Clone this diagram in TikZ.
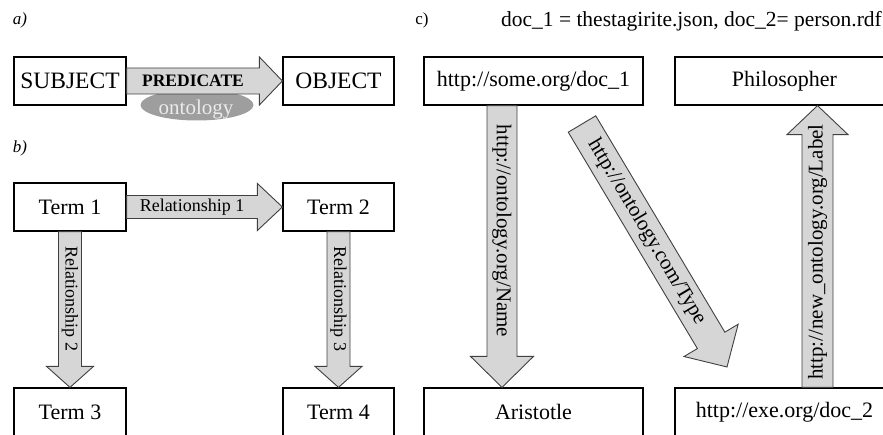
\documentclass[tikz,border=0pt]{standalone}
\usepackage{fontspec}
\setmainfont{Liberation Serif}
\usetikzlibrary{calc,shapes.geometric}
\newcommand{\blockarrow}[7]{%
  \path[barrow] let \p1=(#1), \p2=(#2), \n1={atan2(\y2-\y1,\x2-\x1)}, \n2={veclen(\x2-\x1,\y2-\y1)} in
    ([shift={(\p1)},rotate=\n1]0pt,{#3*0.5pt})
    -- ([shift={(\p1)},rotate=\n1]{\n2*1pt-#5*1pt},{#3*0.5pt})
    -- ([shift={(\p1)},rotate=\n1]{\n2*1pt-#5*1pt},{#4*0.5pt})
    -- ([shift={(\p1)},rotate=\n1]{\n2*1pt},0pt)
    -- ([shift={(\p1)},rotate=\n1]{\n2*1pt-#5*1pt},{-#4*0.5pt})
    -- ([shift={(\p1)},rotate=\n1]{\n2*1pt-#5*1pt},{-#3*0.5pt})
    -- ([shift={(\p1)},rotate=\n1]0pt,{-#3*0.5pt}) -- cycle
    ([shift={(\p1)},rotate=\n1]{0.5*\n2*1pt-0.5*#5*1pt},0pt) node[rotate=\n1,#6]{#7};
}
\tikzset{
  box/.style={draw=black, line width=1.2pt, fill=white, minimum height=48pt,
    inner sep=0pt, font=\fontsize{22}{24}\selectfont},
  bigbox/.style={box, font=\fontsize{23.5}{26}\selectfont},
  barrow/.style={draw=black!75, line width=0.9pt, fill=black!16, line join=miter},
  rel/.style={font=\fontsize{18}{20}\selectfont, inner sep=0pt},
  url/.style={font=\fontsize{21}{23}\selectfont, inner sep=0pt},
  pred/.style={font=\fontsize{17.5}{19}\selectfont\bfseries, inner sep=0pt},
  tag/.style={font=\fontsize{17}{19}\selectfont, inner sep=0pt},
}
\begin{document}
\begin{tikzpicture}[x=1pt, y=-1pt]
\useasboundingbox (0,0) rectangle (883,435);
\clip (0,0) rectangle (883,435);

% panel labels
\node[tag, font=\fontsize{17}{19}\selectfont\itshape] (la) at (20,20) {a)};
\node[tag, font=\fontsize{17}{19}\selectfont\itshape] (lb) at (20,148) {b)};
\node[tag] (lc) at (422,20) {c)};
\node[anchor=east, inner sep=0pt, font=\fontsize{21.5}{23}\selectfont] (title) at (882,21)
  {doc\_1 = thestagirite.json, doc\_2= person.rdf};

% panel a
\node[ellipse, fill=black!38, minimum width=113pt, minimum height=31pt, inner sep=0pt] (ont) at (197,105) {};
\node[inner sep=0pt, text=black!8, font=\fontsize{21}{23}\selectfont] (ontt) at (196,109) {ontology};
\node[bigbox, minimum width=112pt] (subj) at (70,81) {SUBJECT};
\node[bigbox, minimum width=111pt] (obj) at (338.5,81) {OBJECT};

% panel b
\node[box, minimum width=112pt] (t1) at (70,207) {Term 1};
\node[box, minimum width=111pt] (t2) at (338.5,207) {Term 2};
\node[box, minimum width=112pt] (t3) at (70,412) {Term 3};
\node[box, minimum width=111pt] (t4) at (338.5,412) {Term 4};

% panel c
\node[box, minimum width=219pt] (doc1) at (533.5,81) {http://some.org/doc\_1};
\node[box, minimum width=219pt] (phil) at (784.5,81) {Philosopher};
\node[box, minimum width=219pt] (arist) at (533.5,412) {Aristotle};
\node[box, minimum width=219pt] (doc2) at (784.5,412) {http://exe.org/doc\_2};
\coordinate (nx) at (502,0);
\coordinate (lx) at (817.5,0);
\coordinate (tA) at (582,124);
\coordinate (tB) at (727,367);

% block arrows
\blockarrow{subj.east}{obj.west}{26}{48}{23}{pred}{PREDICATE}
\blockarrow{t1.east}{t2.west}{23}{47}{25}{rel}{Relationship 1}
\blockarrow{t1.south}{t3.north}{23}{47}{21}{rel}{Relationship 2}
\blockarrow{t2.south}{t4.north}{23}{47}{21}{rel}{Relationship 3}
\blockarrow{doc1.south -| nx}{arist.north -| nx}{30}{63}{31}{url}{http://ontology.org/Name}
\blockarrow{tA}{tB}{32}{63}{31}{url}{http://ontology.com/Type}
\blockarrow{doc2.north -| lx}{phil.south -| lx}{31}{61}{29}{url, xshift=9pt}{http://new\_ontology.org/Label}
\end{tikzpicture}
\end{document}
